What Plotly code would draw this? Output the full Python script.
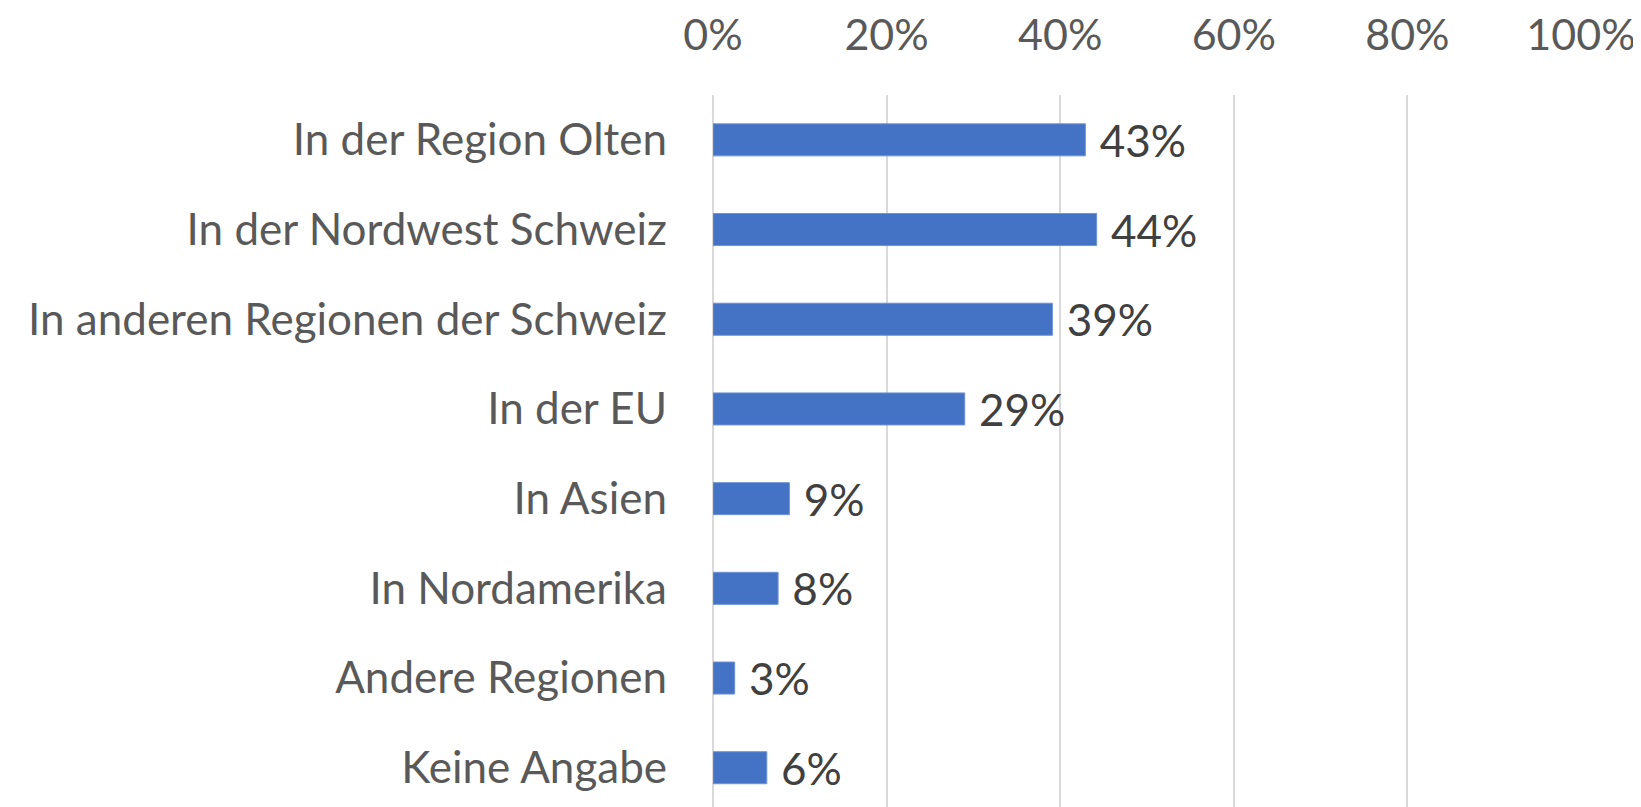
import plotly.graph_objects as go

categories = [
    "In der Region Olten",
    "In der Nordwest Schweiz",
    "In anderen Regionen der Schweiz",
    "In der EU",
    "In Asien",
    "In Nordamerika",
    "Andere Regionen",
    "Keine Angabe",
]
values = [0.429, 0.442, 0.391, 0.290, 0.088, 0.075, 0.025, 0.062]
value_labels = ["43%", "44%", "39%", "29%", "9%", "8%", "3%", "6%"]
tick_values = [0, 0.2, 0.4, 0.6, 0.8, 1.0]
tick_labels = ["0%", "20%", "40%", "60%", "80%", "100%"]

FONT = "Lato, Calibri, Carlito, sans-serif"

fig = go.Figure(
    go.Bar(
        y=categories,
        x=values,
        orientation="h",
        marker=dict(color="#4472C4", line=dict(color="#6f93d4", width=1)),
        text=[" " + t for t in value_labels],
        textposition="outside",
        constraintext="none",
        textfont=dict(family=FONT, size=44, color="#404040"),
        cliponaxis=False,
        hoverinfo="skip",
    )
)

fig.update_layout(
    width=1641,
    height=807,
    margin=dict(l=705, r=68, t=87, b=0, autoexpand=False),
    paper_bgcolor="white",
    plot_bgcolor="white",
    bargap=0.643,
    showlegend=False,
    font=dict(family=FONT),
)

fig.update_xaxes(
    side="top",
    range=[0, 1],
    tickvals=tick_values,
    ticktext=tick_labels,
    tickfont=dict(family=FONT, size=43, color="#595959"),
    showgrid=True,
    gridcolor="#D9D9D9",
    gridwidth=1.5,
    zeroline=True,
    zerolinecolor="#D9D9D9",
    zerolinewidth=1.5,
    showline=False,
    ticks="",
    ticklabelstandoff=35,
    automargin=False,
    fixedrange=True,
)

fig.update_yaxes(
    categoryorder="array",
    categoryarray=categories,
    range=[7.527, -0.5],
    tickfont=dict(family=FONT, size=44, color="#595959"),
    showgrid=False,
    zeroline=False,
    showline=False,
    ticks="",
    ticklabelstandoff=45,
    automargin=False,
    fixedrange=True,
)

fig.write_html("out.html")
